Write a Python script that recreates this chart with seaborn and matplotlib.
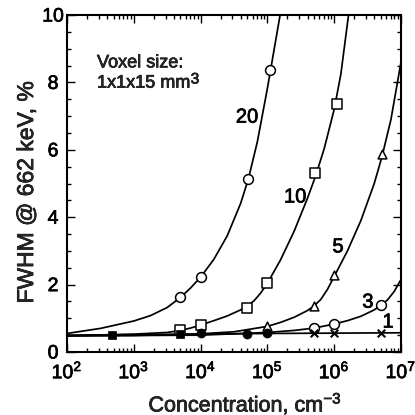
import numpy as np
import pandas as pd
import matplotlib
matplotlib.use("Agg")
import matplotlib.pyplot as plt
import matplotlib.patheffects as pe
import seaborn as sns
from matplotlib.ticker import LogLocator, MultipleLocator, NullFormatter

# ---- data ----
# fitted curves (concentration in cm^-3, FWHM in %)
c20_conc = [1e2, 3.16e2, 1e3, 1.78e3, 3.16e3, 5.01e3, 7.08e3, 1e4, 1.58e4, 2.51e4,
            3.98e4, 5.2e4, 7.08e4, 1e5, 1.26e5, 1.55e5]
c20_fwhm = [0.55, 0.70, 0.92, 1.08, 1.32, 1.62, 1.90, 2.22, 2.75, 3.45,
            4.41, 5.14, 6.24, 7.82, 8.97, 10.0]

c10_conc = [1e2, 1e3, 3.16e3, 5.01e3, 7.08e3, 1e4, 1.58e4, 2.51e4, 3.98e4, 5.01e4, 6.31e4,
            7.94e4, 1e5, 1.58e5, 2.51e5, 3.98e5, 5.2e5, 7.08e5, 1e6, 1.26e6, 1.64e6]
c10_fwhm = [0.48, 0.53, 0.58, 0.64, 0.71, 0.80, 0.93, 1.07, 1.25, 1.37, 1.52,
            1.75, 2.04, 2.74, 3.58, 4.56, 5.19, 6.03, 7.2, 8.25, 10.0]

c5_conc = [1e2, 1e3, 1e4, 3.16e4, 1e5, 1.58e5, 2.51e5, 3.98e5, 5.01e5, 6.31e5, 7.94e5,
           1e6, 1.58e6, 2.51e6, 3.98e6, 5.2e6, 7.08e6, 1e7]
c5_fwhm = [0.48, 0.49, 0.54, 0.60, 0.76, 0.88, 1.03, 1.23, 1.37, 1.56, 1.86,
           2.24, 3.0, 3.9, 5.0, 5.8, 6.9, 8.6]

c3_conc = [1e2, 1e4, 1e5, 2.51e5, 5.01e5, 1e6, 1.58e6, 2.51e6, 3.98e6, 5.01e6,
           6.31e6, 7.94e6, 1e7]
c3_fwhm = [0.48, 0.50, 0.58, 0.64, 0.71, 0.83, 0.93, 1.06, 1.25, 1.38,
           1.55, 1.80, 2.15]

c1_conc = [1e2, 1e4, 1e5, 1e6, 1e7]
c1_fwhm = [0.50, 0.53, 0.55, 0.56, 0.57]

# measured points
p20_conc = [5e3, 1e4, 5.2e4, 1.1e5]
p20_fwhm = [1.63, 2.23, 5.12, 8.37]
p10_conc = [5e3, 1e4, 5e4, 1e5, 5.2e5, 1.1e6]
p10_fwhm = [0.64, 0.81, 1.30, 2.04, 5.30, 7.35]
p5_conc = [1e5, 5e5, 1e6, 5.2e6]
p5_fwhm = [0.78, 1.37, 2.28, 5.87]
p3_conc = [5e5, 1e6, 5e6]
p3_fwhm = [0.71, 0.82, 1.38]
p1_conc = [5e5, 1e6, 5e6]
p1_fwhm = [0.55, 0.57, 0.57]
fsq_conc = [4.8e2, 5e3]
fsq_fwhm = [0.50, 0.52]
fci_conc = [1e4, 5e4, 1e5]
fci_fwhm = [0.55, 0.53, 0.56]

curve_labels = ["20", "10", "5", "3", "1"]
label_conc = [4.95e4, 2.6e5, 1.14e6, 3.2e6, 6.4e6]
label_fwhm = [6.97, 4.6, 3.12, 1.48, 0.89]

x_ticks = [1e2, 1e3, 1e4, 1e5, 1e6, 1e7]
y_ticks = [0, 2, 4, 6, 8, 10]

# ---- figure ----
sns.set_theme(style="ticks")
plt.rcParams['font.family'] = ['Liberation Sans', 'DejaVu Sans']
plt.rcParams['mathtext.fontset'] = 'custom'
plt.rcParams['mathtext.rm'] = 'Liberation Sans'
plt.rcParams['mathtext.it'] = 'Liberation Sans:italic'
plt.rcParams['mathtext.bf'] = 'Liberation Sans:bold'

thick = [pe.withStroke(linewidth=0.5, foreground="black")]

fig = plt.figure(figsize=(4.15, 4.15), dpi=100)
ax = fig.add_axes([0.1614, 0.1518, 0.8048, 0.812])

curves = [(c20_conc, c20_fwhm), (c10_conc, c10_fwhm), (c5_conc, c5_fwhm),
          (c3_conc, c3_fwhm), (c1_conc, c1_fwhm)]
for name, (cx, cy) in zip(curve_labels, curves):
    df = pd.DataFrame({"conc": cx, "fwhm": cy})
    sns.lineplot(data=df, x="conc", y="fwhm", color="black", lw=1.25,
                 ax=ax, estimator=None, sort=False, legend=False)

open_sets = [(p20_conc, p20_fwhm, "o"), (p10_conc, p10_fwhm, "s"),
             (p5_conc, p5_fwhm, "^"), (p3_conc, p3_fwhm, "o")]
for cx, cy, mk in open_sets:
    df = pd.DataFrame({"conc": cx, "fwhm": cy})
    sns.scatterplot(data=df, x="conc", y="fwhm", marker=mk, s=50 if mk != "^" else 40,
                    facecolor="white", edgecolor="black", linewidth=1.1,
                    ax=ax, legend=False, zorder=3)

df = pd.DataFrame({"conc": p1_conc, "fwhm": p1_fwhm})
sns.scatterplot(data=df, x="conc", y="fwhm", marker="x", s=30, color="black",
                linewidth=1.5, ax=ax, legend=False, zorder=3)
df = pd.DataFrame({"conc": fsq_conc, "fwhm": fsq_fwhm})
sns.scatterplot(data=df, x="conc", y="fwhm", marker="s", s=38, color="black",
                edgecolor="black", ax=ax, legend=False, zorder=3)
df = pd.DataFrame({"conc": fci_conc, "fwhm": fci_fwhm})
sns.scatterplot(data=df, x="conc", y="fwhm", marker="o", s=42, color="black",
                edgecolor="black", ax=ax, legend=False, zorder=3)

for lab, lx, ly in zip(curve_labels, label_conc, label_fwhm):
    ax.text(lx, ly, lab, fontsize=14.5, ha="center", va="center", color="black",
            path_effects=thick)

ax.text(0.09, 0.858, "Voxel size:", transform=ax.transAxes, fontsize=13,
        ha="left", va="center", path_effects=thick)
t2 = ax.text(0.09, 0.798, "1x1x15 mm", transform=ax.transAxes, fontsize=13,
             ha="left", va="center", path_effects=thick)
ax.annotate("3", xy=(1.0, 1.0), xycoords=t2, xytext=(0.5, 1.5),
            textcoords="offset points", fontsize=11, ha="left", va="top",
            path_effects=thick)

ax.set_xscale("log")
ax.set_xlim(1e2, 1e7)
ax.set_ylim(0, 10)
ax.set_xticks(x_ticks)
ax.set_yticks(y_ticks)
ax.xaxis.set_minor_locator(LogLocator(base=10, subs=np.arange(2, 10), numticks=20))
ax.xaxis.set_minor_formatter(NullFormatter())
ax.yaxis.set_minor_locator(MultipleLocator(0.5))

ax.tick_params(which="both", direction="in", top=True, right=True,
               labelsize=14, colors="black", width=1.0)
ax.tick_params(which="major", length=6)
ax.tick_params(which="minor", length=3)
ax.tick_params(axis="x", which="major", pad=6)
ax.tick_params(axis="y", which="major", pad=10)
for lab in ax.get_yticklabels():
    lab.set_horizontalalignment("center")
for lab in ax.get_yticklabels() + ax.get_xticklabels():
    lab.set_path_effects(thick)
for sp in ax.spines.values():
    sp.set_linewidth(1.5)
    sp.set_color("black")
    sp.set_visible(True)

ax.set_xlabel("Concentration, cm$^{-3}$", fontsize=15.5, labelpad=6,
              path_effects=thick)
ax.set_ylabel("FWHM @ 662 keV, %", fontsize=16.5, labelpad=3,
              path_effects=thick)
ax.xaxis.label.set_x(0.533)
ax.yaxis.label.set_y(0.473)

fig.savefig("out.png", dpi=100)
